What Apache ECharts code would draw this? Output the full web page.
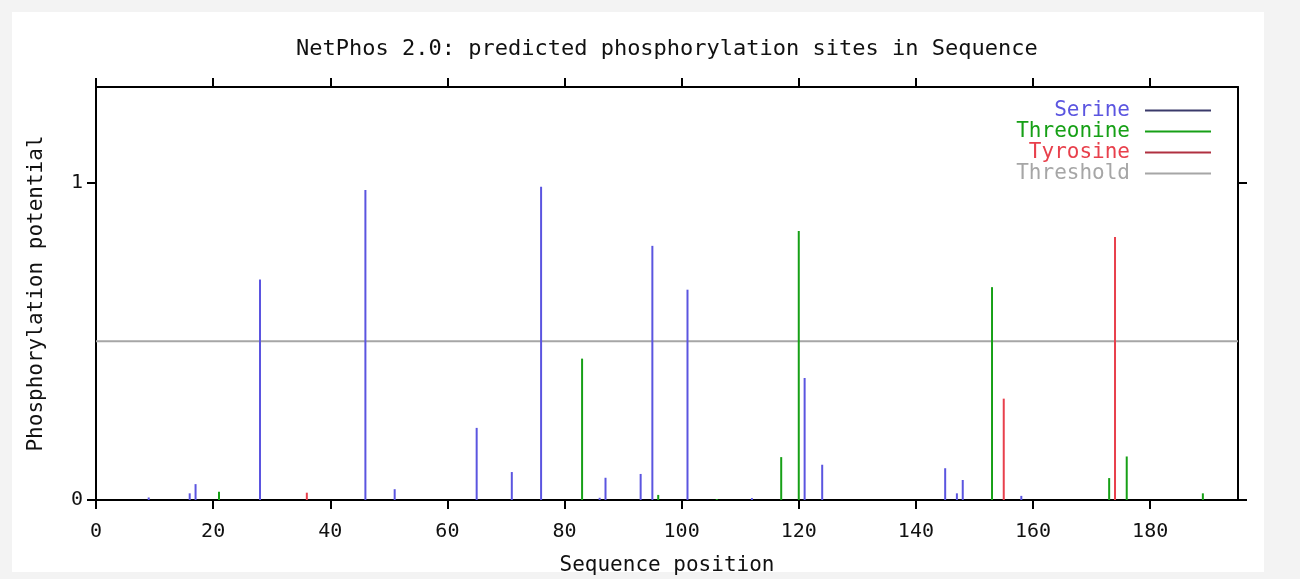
<!DOCTYPE html>
<html>
<head>
<meta charset="utf-8">
<script src="https://cdn.jsdelivr.net/npm/echarts@6/dist/echarts.min.js"></script>
<style>
html,body{margin:0;padding:0;background:#f3f3f3;overflow:hidden;}
#chart{width:1300px;height:579px;}
</style>
</head>
<body>
<div id="chart"></div>
<script>
// ---- data ----
const serinePos = [9, 16, 17, 28, 46, 51, 65, 71, 76, 86, 87, 93, 95, 101, 112, 121, 124, 145, 147, 148, 158];
const serineVal = [0.008, 0.021, 0.05, 0.694, 0.976, 0.034, 0.227, 0.088, 0.986, 0.007, 0.07, 0.082, 0.80, 0.662, 0.006, 0.384, 0.111, 0.10, 0.021, 0.063, 0.013];
const threoninePos = [21, 83, 96, 106, 117, 120, 153, 173, 176, 189];
const threonineVal = [0.026, 0.445, 0.016, 0.003, 0.135, 0.847, 0.67, 0.069, 0.137, 0.021];
const tyrosinePos = [36, 155, 174];
const tyrosineVal = [0.023, 0.319, 0.828];
const threshold = 0.5;
const xMin = 0, xMax = 195;
const yMin = 0, yMax = 1.3;
const xTicks = [0, 20, 40, 60, 80, 100, 120, 140, 160, 180];
const yTicks = [0, 1];

const FONT = 'DejaVu Sans Mono';
const colSer = '#5b55e0';
const colThr = '#16a016';
const colTyr = '#e8404c';
const colThd = '#a6a6a6';

function pairs(p, v) { return p.map((x, i) => [x, v[i]]); }

const chart = echarts.init(document.getElementById('chart'), null, {renderer: 'canvas'});

const baseX = {
  type: 'value', min: xMin, max: xMax, interval: 20,
  axisLine: {show: true, onZero: false, lineStyle: {color: '#000', width: 2}},
  axisTick: {show: true, inside: false, length: 9, lineStyle: {color: '#000', width: 2}, customValues: xTicks},
  splitLine: {show: false}
};
const baseY = {
  type: 'value', min: yMin, max: yMax, interval: 1,
  axisLine: {show: true, onZero: false, lineStyle: {color: '#000', width: 2}},
  axisTick: {show: true, inside: false, length: 9, lineStyle: {color: '#000', width: 2}, customValues: yTicks},
  splitLine: {show: false}
};

const barCommon = {
  type: 'bar', barWidth: 2, barGap: '-100%', xAxisIndex: 0, yAxisIndex: 0,
  animation: false
};

chart.setOption({
  backgroundColor: '#f3f3f3',
  animation: false,
  graphic: [{
    type: 'rect', z: -10, silent: true,
    shape: {x: 12, y: 12, width: 1252, height: 560},
    style: {fill: '#ffffff'}
  }],
  title: {
    text: 'NetPhos 2.0: predicted phosphorylation sites in Sequence',
    left: 291, top: 33,
    textStyle: {fontFamily: FONT, fontSize: 22, fontWeight: 'normal', color: '#111'}
  },
  legend: {
    orient: 'vertical', right: 84, top: 95, align: 'right',
    icon: 'rect', itemWidth: 66, itemHeight: 2, itemGap: 0,
    textStyle: {fontFamily: FONT, fontSize: 21, lineHeight: 21, padding: [0, 10, 0, 0]},
    data: [
      {name: 'Serine', textStyle: {color: colSer}, itemStyle: {color: '#3a3a6a'}},
      {name: 'Threonine', textStyle: {color: colThr}},
      {name: 'Tyrosine', textStyle: {color: colTyr}, itemStyle: {color: '#b03040'}},
      {name: 'Threshold', textStyle: {color: colThd}}
    ],
    selectedMode: false
  },
  grid: {left: 96, right: 62, top: 87, bottom: 79, containLabel: false, outerBoundsMode: 'none'},
  xAxis: [
    Object.assign({}, baseX, {
      position: 'bottom',
      name: 'Sequence position', nameLocation: 'middle', nameGap: 55,
      nameTextStyle: {fontFamily: FONT, fontSize: 21, color: '#111'},
      axisLabel: {show: true, fontFamily: FONT, fontSize: 20, color: '#111', margin: 22, customValues: xTicks}
    }),
    Object.assign({}, baseX, {position: 'top', axisLabel: {show: false}})
  ],
  yAxis: [
    Object.assign({}, baseY, {
      position: 'left',
      name: 'Phosphorylation potential', nameLocation: 'middle', nameGap: 49,
      nameTextStyle: {fontFamily: FONT, fontSize: 21, color: '#111'},
      axisLabel: {show: true, fontFamily: FONT, fontSize: 20, color: '#111', margin: 13, customValues: yTicks}
    }),
    Object.assign({}, baseY, {position: 'right', axisLabel: {show: false}})
  ],
  series: [
    Object.assign({}, barCommon, {name: 'Serine', itemStyle: {color: colSer}, data: pairs(serinePos, serineVal)}),
    Object.assign({}, barCommon, {name: 'Threonine', itemStyle: {color: colThr}, data: pairs(threoninePos, threonineVal)}),
    Object.assign({}, barCommon, {name: 'Tyrosine', itemStyle: {color: colTyr}, data: pairs(tyrosinePos, tyrosineVal)}),
    {
      name: 'Threshold', type: 'line', xAxisIndex: 0, yAxisIndex: 0,
      showSymbol: false, symbol: 'none', z: 1,
      lineStyle: {color: colThd, width: 2}, itemStyle: {color: colThd},
      data: [[xMin, threshold], [xMax, threshold]]
    }
  ]
});
</script>
</body>
</html>
